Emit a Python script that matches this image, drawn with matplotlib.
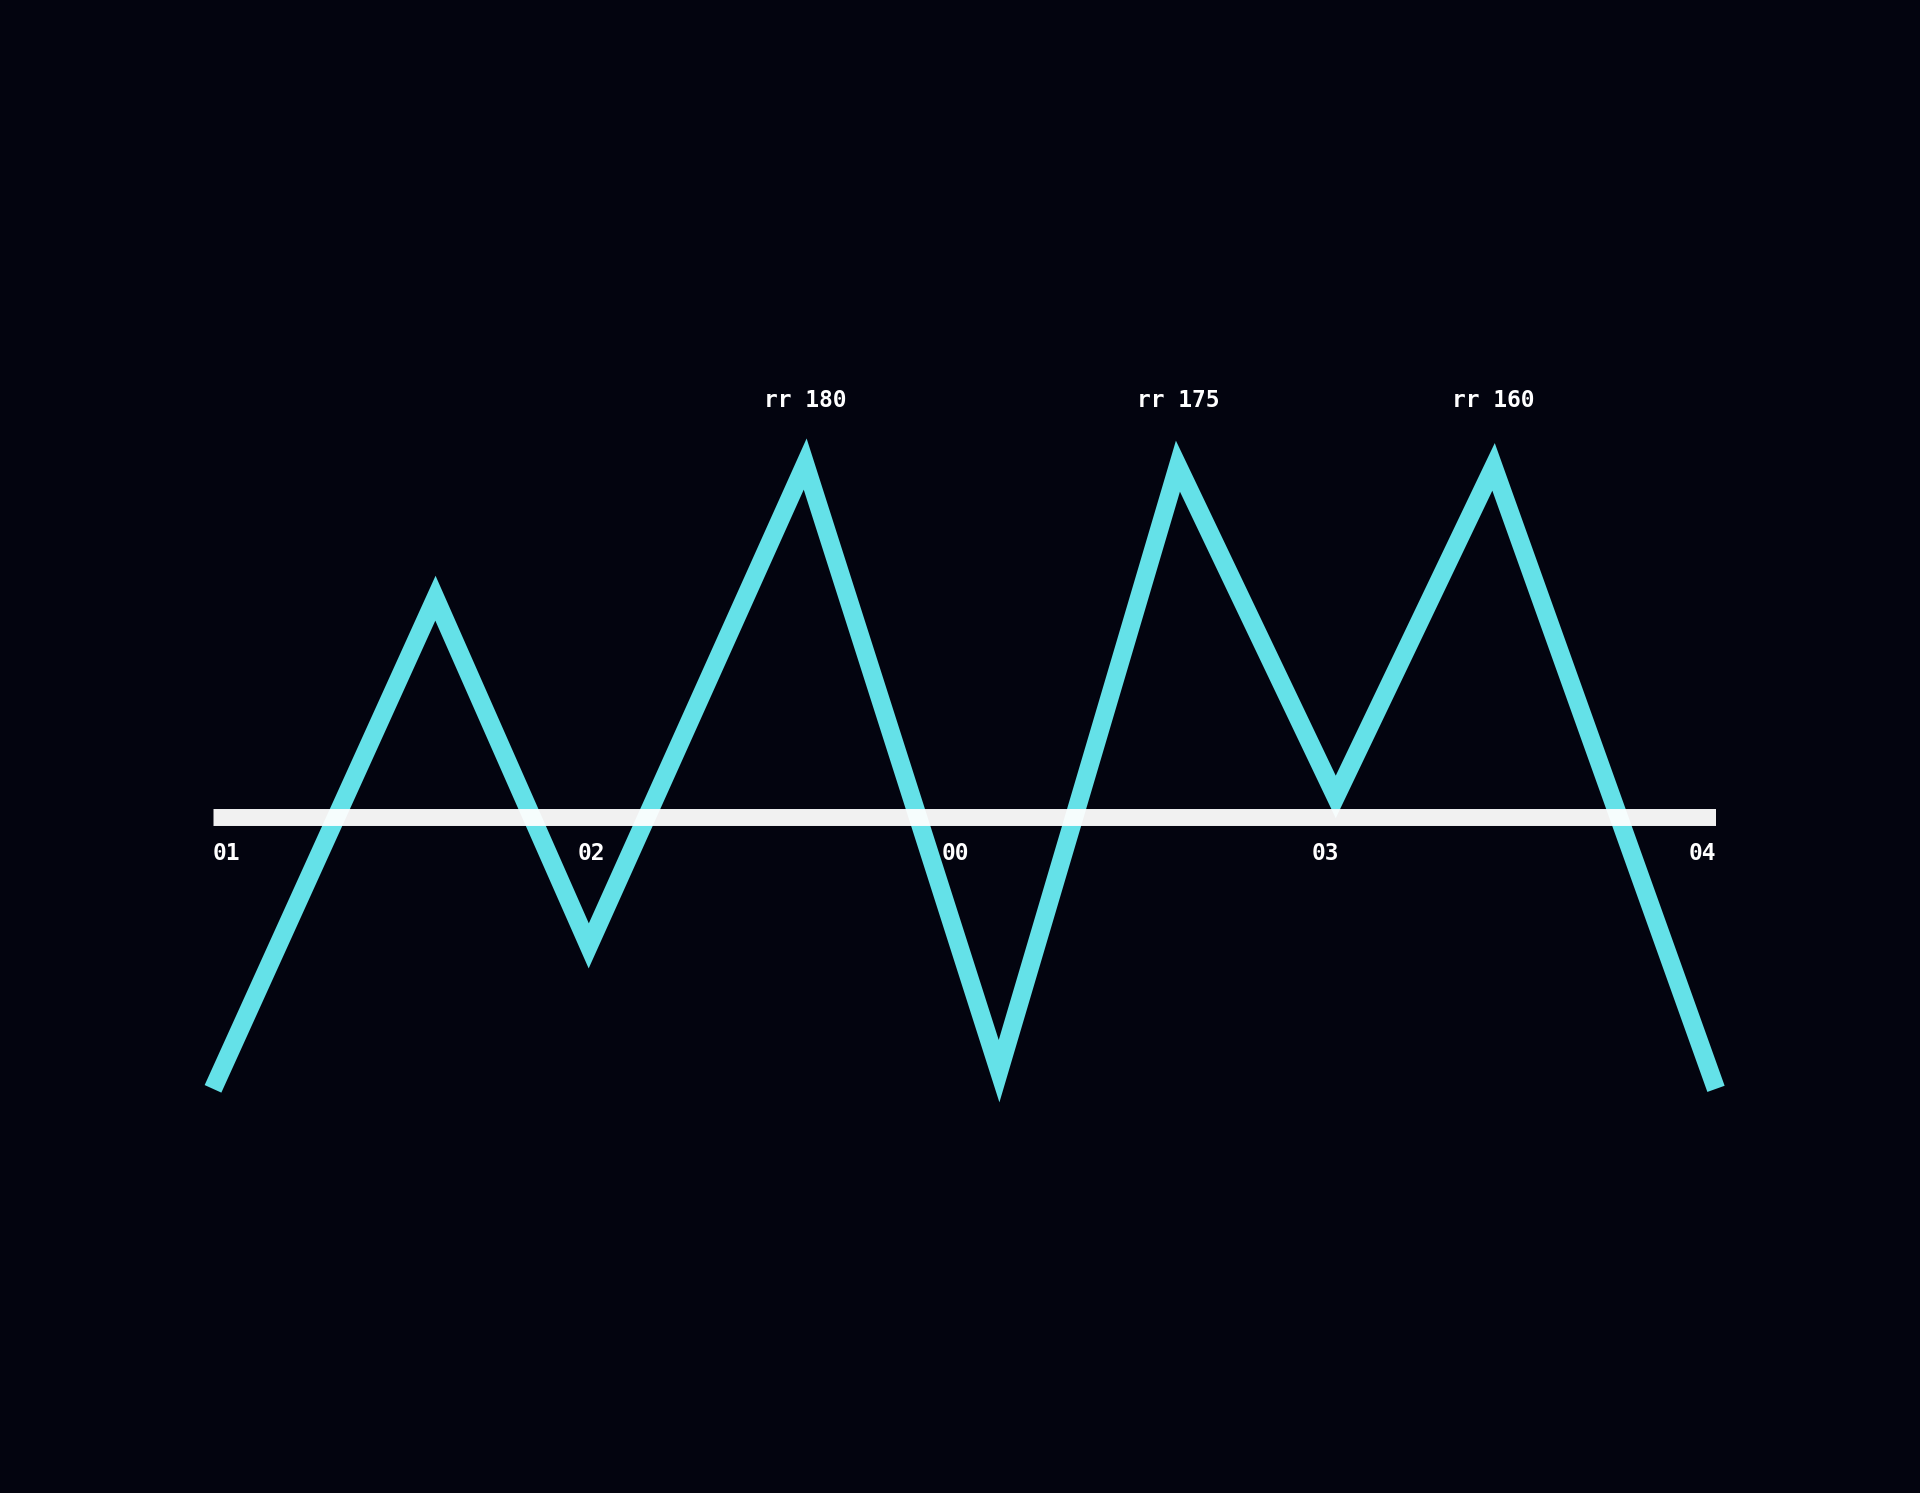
import matplotlib
matplotlib.use("Agg")
import matplotlib.pyplot as plt

# position along the baseline (0-100) and signed value around the baseline
x_pos = [0, 14.8, 25.0, 39.4, 52.3, 64.2, 74.7, 85.2, 100]
values = [-77, 62, -36.5, 100, -72, 99.4, 5.7, 99.2, -77]

peak_labels = ["rr 180", "rr 175", "rr 160"]
peak_index = [3, 5, 7]

tick_labels = ["01", "02", "00", "03", "04"]
tick_pos = [0, 25.2, 49.4, 74.0, 100]
tick_align = ["left", "center", "center", "center", "right"]

bg = "#03040f"
cyan = "#64e1e8"

fig = plt.figure(figsize=(19.2, 14.93), dpi=100, facecolor=bg)
ax = fig.add_axes([213 / 1920, 0.0981, 1503 / 1920, 0.7093])
ax.set_facecolor(bg)
ax.set_xlim(0, 100)
ax.set_ylim(-150, 150)
ax.axis("off")

ax.plot(x_pos, values, color=cyan, lw=13.2, solid_joinstyle="miter",
        solid_capstyle="butt", clip_on=False, zorder=2)
ax.axhline(0, color="#ffffff", alpha=0.95, lw=12.2, solid_capstyle="butt", zorder=3)

font = dict(family="DejaVu Sans Mono", fontsize=16.5, fontweight="bold", color="#ffffff")
for lab, i in zip(peak_labels, peak_index):
    ax.text(x_pos[i], 118, lab, ha="center", va="center", **font)

for lab, xp, al in zip(tick_labels, tick_pos, tick_align):
    ax.text(xp, -10.2, lab, ha=al, va="center", **font)

fig.savefig("out.png", dpi=100, facecolor=bg)
